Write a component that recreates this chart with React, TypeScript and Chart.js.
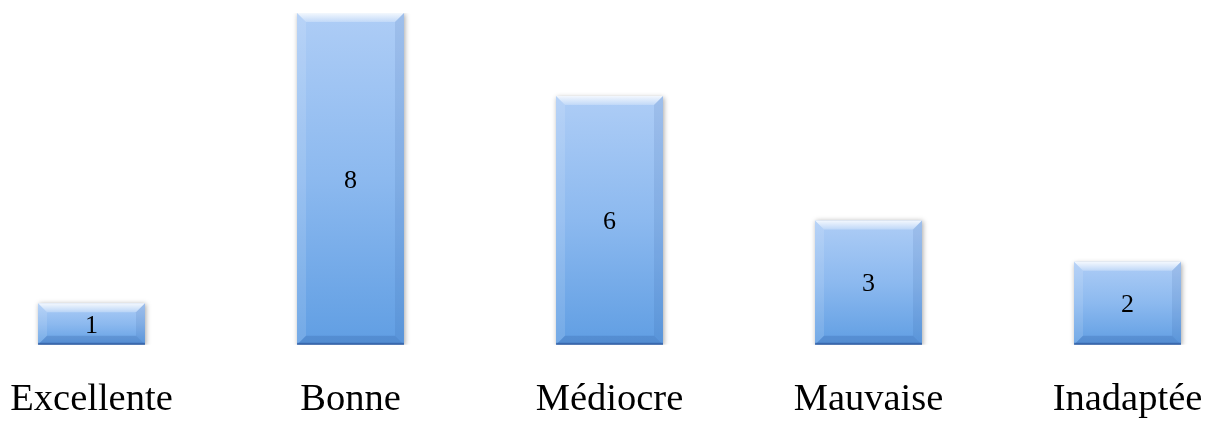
import React, { useEffect, useRef } from "react";
import { Chart, registerables } from "chart.js";

Chart.register(...registerables);

const categories: string[] = ["Excellente", "Bonne", "Médiocre", "Mauvaise", "Inadaptée"];
const values: number[] = [1, 8, 6, 3, 2];

const FONT = "'Liberation Serif', 'Times New Roman', serif";

const bevelPlugin = {
  id: "bevel",
  beforeDatasetDraw(chart: any) {
    const ctx = chart.ctx;
    ctx.save();
    ctx.shadowColor = "rgba(0,0,0,0.35)";
    ctx.shadowBlur = 5;
    ctx.shadowOffsetX = 1;
    ctx.shadowOffsetY = 1;
  },
  afterDatasetDraw(chart: any) {
    const ctx = chart.ctx;
    ctx.restore();
    const meta = chart.getDatasetMeta(0);
    meta.data.forEach((bar: any, i: number) => {
      const { x, y, base, width } = bar.getProps(["x", "y", "base", "width"], true);
      const l = x - width / 2;
      const r = x + width / 2;
      const t = y;
      const b = base;
      const s = Math.min(9, (b - t) / 3);
      ctx.save();
      const tg = ctx.createLinearGradient(0, t, 0, t + s);
      tg.addColorStop(0, "rgba(255,255,255,0.85)");
      tg.addColorStop(1, "rgba(255,255,255,0.25)");
      ctx.fillStyle = tg;
      ctx.beginPath();
      ctx.moveTo(l, t);
      ctx.lineTo(r, t);
      ctx.lineTo(r - s, t + s);
      ctx.lineTo(l + s, t + s);
      ctx.closePath();
      ctx.fill();
      ctx.fillStyle = "rgba(255,255,255,0.12)";
      ctx.beginPath();
      ctx.moveTo(l, t);
      ctx.lineTo(l + s, t + s);
      ctx.lineTo(l + s, b - s);
      ctx.lineTo(l, b);
      ctx.closePath();
      ctx.fill();
      ctx.fillStyle = "rgba(30,70,140,0.10)";
      ctx.beginPath();
      ctx.moveTo(r, t);
      ctx.lineTo(r - s, t + s);
      ctx.lineTo(r - s, b - s);
      ctx.lineTo(r, b);
      ctx.closePath();
      ctx.fill();
      ctx.fillStyle = "rgba(30,70,140,0.2)";
      ctx.beginPath();
      ctx.moveTo(l, b);
      ctx.lineTo(r, b);
      ctx.lineTo(r - s, b - s);
      ctx.lineTo(l + s, b - s);
      ctx.closePath();
      ctx.fill();
      ctx.fillStyle = "rgba(40,80,150,0.6)";
      ctx.fillRect(l, b - 2, width, 2);
      ctx.fillStyle = "#000";
      ctx.font = `26px ${FONT}`;
      ctx.textAlign = "center";
      ctx.textBaseline = "middle";
      ctx.fillText(String(values[i]), x, (t + b) / 2 + 2);
      ctx.restore();
    });
  },
};

export default function App() {
  const ref = useRef<HTMLCanvasElement | null>(null);
  useEffect(() => {
    if (!ref.current) return;
    const chart = new Chart(ref.current, {
      type: "bar",
      data: {
        labels: categories,
        datasets: [
          {
            data: values,
            barPercentage: 0.413,
            categoryPercentage: 1,
            borderWidth: 0,
            backgroundColor: (c: any) => {
              const ch = c.chart;
              const ys = ch.scales?.y;
              if (!ys || c.raw == null) return "#7fb0ec";
              const top = ys.getPixelForValue(c.raw);
              const bot = ys.getPixelForValue(0);
              if (!isFinite(top) || !isFinite(bot) || top === bot) return "#7fb0ec";
              const g = ch.ctx.createLinearGradient(0, top, 0, bot);
              g.addColorStop(0, "#aecdf6");
              g.addColorStop(0.5, "#8cb9ef");
              g.addColorStop(1, "#609ee3");
              return g;
            },
          },
        ],
      },
      options: {
        animation: false,
        responsive: true,
        maintainAspectRatio: false,
        layout: { padding: { top: 13, bottom: 4, left: 0, right: 0 } },
        plugins: { legend: { display: false }, tooltip: { enabled: false } },
        scales: {
          x: {
            grid: { display: false },
            border: { display: false },
            ticks: {
              color: "#000",
              font: { family: FONT, size: 38.5 },
              padding: 24,
              autoSkip: false,
              maxRotation: 0,
            },
          },
          y: { display: false, min: 0, max: 8 },
        },
      },
      plugins: [bevelPlugin],
    });
    return () => chart.destroy();
  }, []);
  return (
    <div style={{ position: "fixed", left: 0, top: 0, width: 1211, height: 423, overflow: "hidden", background: "#fff" }}>
      <div style={{ position: "absolute", left: -38, top: 0, width: 1295, height: 451 }}>
        <canvas ref={ref} />
      </div>
    </div>
  );
}
